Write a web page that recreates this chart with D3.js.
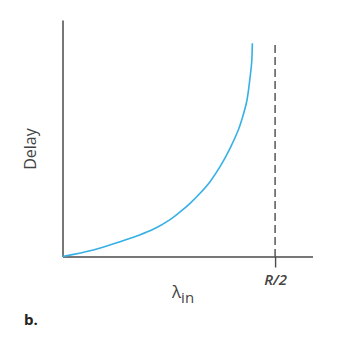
<!DOCTYPE html>
<html>
<head>
<meta charset="utf-8">
<script src="https://cdn.jsdelivr.net/npm/d3@7"></script>
<style>
  body { margin: 0; background: #fff; }
  svg { display: block; }
</style>
</head>
<body>
<script>
// load as fraction of R/2, delay in arbitrary units
const lambdaIn = [0, 0.145, 0.271, 0.349, 0.427, 0.506, 0.553, 0.600, 0.647, 0.694, 0.741, 0.788, 0.827, 0.843, 0.867, 0.882, 0.890, 0.893];
const delay    = [0, 0.275, 0.626, 0.867, 1.15, 1.56, 1.882, 2.249, 2.672, 3.163, 3.797, 4.575, 5.349, 5.772, 6.575, 7.548, 8.224, 9.015];
const xTicks = [1];
const xTickLabels = ["R/2"];

const width = 337, height = 345;
const svg = d3.select("body").append("svg")
  .attr("width", width)
  .attr("height", height);

const x = d3.scaleLinear().domain([0, 1.176]).range([62.5, 312.5]);
const y = d3.scaleLinear().domain([0, 10]).range([256.5, 20]);

const axisColor = "#4a4a4a";

// dashed asymptote at R/2
svg.append("line")
  .attr("x1", x(1)).attr("x2", x(1))
  .attr("y1", 45).attr("y2", y(0))
  .attr("stroke", axisColor)
  .attr("stroke-width", 1.4)
  .attr("stroke-dasharray", "8,4");

// x axis
const xAxis = d3.axisBottom(x)
  .tickValues(xTicks)
  .tickSize(11)
  .tickSizeOuter(0)
  .tickFormat((d, i) => xTickLabels[i]);

const gx = svg.append("g")
  .attr("transform", `translate(0,${y(0)})`)
  .call(xAxis);
gx.select(".domain").attr("stroke", axisColor).attr("stroke-width", 1.5);
gx.selectAll(".tick line").attr("stroke", axisColor).attr("stroke-width", 1.4);
gx.selectAll(".tick text")
  .attr("y", 28)
  .attr("dy", null)
  .attr("fill", "#444")
  .style("font-family", "'Open Sans', sans-serif")
  .style("font-size", "15px")
  .style("font-style", "italic")
  .style("font-weight", "600");

// y axis
const gy = svg.append("g")
  .attr("transform", `translate(${x(0)},0)`)
  .call(d3.axisLeft(y).tickValues([]).tickSizeOuter(0));
gy.select(".domain").attr("stroke", axisColor).attr("stroke-width", 1.5);

// curve
const line = d3.line()
  .x((d, i) => x(lambdaIn[i]))
  .y(d => y(d))
  .curve(d3.curveCatmullRom.alpha(0.5));

svg.append("path")
  .datum(delay)
  .attr("d", line)
  .attr("fill", "none")
  .attr("stroke", "#36b0e6")
  .attr("stroke-width", 1.6);

// labels
const lab = svg.append("text")
  .attr("x", 172)
  .attr("y", 298)
  .attr("fill", "#444")
  .style("font-family", "'Open Sans', sans-serif")
  .style("font-size", "17px");
lab.append("tspan").text("λ");
lab.append("tspan").attr("dy", 5).style("font-size", "15px").text("in");

svg.append("text")
  .attr("transform", "translate(36,149) rotate(-90)")
  .attr("text-anchor", "middle")
  .attr("fill", "#444")
  .style("font-family", "'Open Sans', sans-serif")
  .style("font-size", "16px")
  .text("Delay");

svg.append("text")
  .attr("x", 24)
  .attr("y", 325)
  .attr("fill", "#222")
  .style("font-family", "'Open Sans', sans-serif")
  .style("font-size", "15px")
  .style("font-weight", "700")
  .text("b.");
</script>
</body>
</html>
